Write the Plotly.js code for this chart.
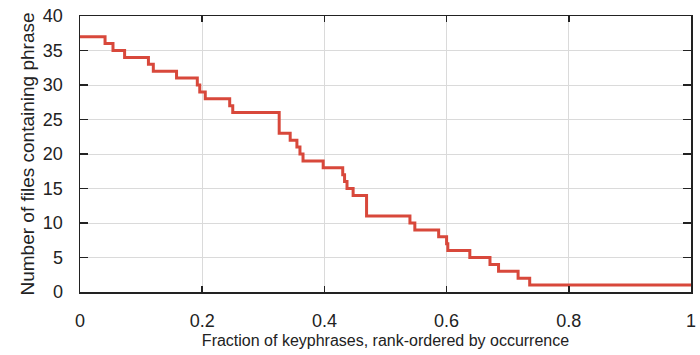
<!DOCTYPE html>
<html>
<head>
<meta charset="utf-8">
<script src="https://cdn.plot.ly/plotly-3.0.1.min.js"></script>
<style>html,body{margin:0;padding:0;background:#fff;}#chart{width:700px;height:355px;}</style>
</head>
<body>
<div id="chart"></div>
<script>
// Start of each step (fraction of keyphrases) and its level (number of files)
var stepStart = [0, 0.041, 0.054, 0.073, 0.112, 0.120, 0.158, 0.192, 0.196, 0.205, 0.245, 0.250, 0.326, 0.344, 0.355, 0.360, 0.365, 0.398, 0.430, 0.433, 0.437, 0.447, 0.469, 0.540, 0.548, 0.587, 0.600, 0.602, 0.638, 0.671, 0.685, 0.717, 0.736, 1.0];
var fileCount = [37, 36, 35, 34, 33, 32, 31, 30, 29, 28, 27, 26, 23, 22, 21, 20, 19, 18, 17, 16, 15, 14, 11, 10, 9, 8, 7, 6, 5, 4, 3, 2, 1, 1];
var xTicks = [0, 0.2, 0.4, 0.6, 0.8, 1];
var xTickText = ['0', '0.2', '0.4', '0.6', '0.8', '1'];
var yTicks = [0, 5, 10, 15, 20, 25, 30, 35, 40];

var trace = {
  x: stepStart, y: fileCount, type: 'scatter', mode: 'lines',
  line: {shape: 'hv', color: '#d8483b', width: 3},
  hoverinfo: 'skip'
};
var fontFam = '"Liberation Sans", Arial, Helvetica, sans-serif';
var layout = {
  width: 700, height: 355,
  margin: {l: 80, r: 9, t: 16, b: 63},
  paper_bgcolor: '#fff', plot_bgcolor: '#fff',
  showlegend: false,
  font: {family: fontFam, size: 18, color: '#222'},
  xaxis: {
    range: [0, 1], tickvals: xTicks, ticktext: xTickText,
    showgrid: true, gridcolor: '#dadada', gridwidth: 1, zeroline: false,
    showline: true, linecolor: '#222', linewidth: 1.5, mirror: 'ticks',
    ticks: 'inside', ticklen: 6, tickcolor: '#222', tickwidth: 1.5,
    ticklabelstandoff: 12,
    tickfont: {size: 18, family: fontFam, color: '#222'},
    title: {text: 'Fraction of keyphrases, rank-ordered by occurrence', font: {size: 16, family: fontFam, color: '#222'}, standoff: 4}
  },
  yaxis: {
    range: [0, 40], tickvals: yTicks,
    showgrid: true, gridcolor: '#dadada', gridwidth: 1, zeroline: false,
    showline: true, linecolor: '#222', linewidth: 1.5, mirror: 'ticks',
    ticks: 'inside', ticklen: 8, tickcolor: '#222', tickwidth: 1.5,
    ticklabelstandoff: 12,
    tickfont: {size: 18, family: fontFam, color: '#222'},
    title: {text: 'Number of files containing phrase', font: {size: 19, family: fontFam, color: '#222'}, standoff: 3}
  }
};
Plotly.newPlot('chart', [trace], layout, {staticPlot: true, displayModeBar: false});
</script>
</body>
</html>
